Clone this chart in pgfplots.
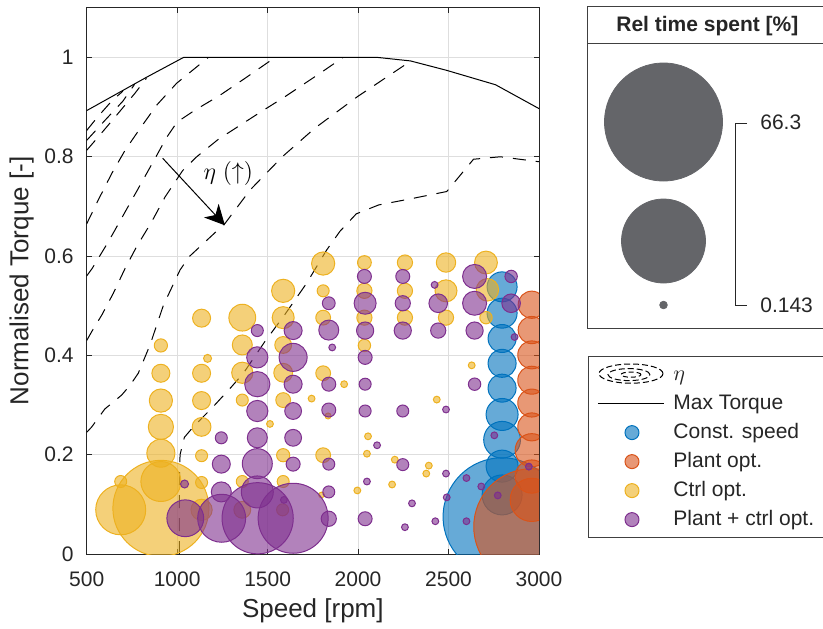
\documentclass[border=0pt]{standalone}
\usepackage{pgfplots}
\pgfplotsset{compat=1.18}
\usepackage{pgfplotstable}
\usepackage{fontspec}
\setmainfont{Liberation Sans}
\usetikzlibrary{arrows.meta}
\definecolor{cB}{RGB}{0,114,189}
\definecolor{cO}{RGB}{217,83,25}
\definecolor{cY}{RGB}{237,177,32}
\definecolor{cP}{RGB}{126,47,142}
\definecolor{tc}{RGB}{38,38,38}
\definecolor{gr}{RGB}{100,101,105}

\pgfplotstableread{
x y r
2796 0.538 7.5
2796 0.485 7.5
2796 0.434 7.0
2796 0.384 7.0
2796 0.334 7.0
2796 0.281 8.0
2796 0.230 9.2
2796 0.177 8.0
2796 0.119 10.0
2796 0.075 29.5
}\blue

\pgfplotstableread{
x y r
2960 0.502 6.8
2960 0.451 6.8
2960 0.401 7.0
2960 0.350 7.0
2960 0.304 7.0
2960 0.256 7.0
2960 0.209 8.3
2960 0.156 8.3
2960 0.109 10.8
2960 0.055 29.0
}\orange

\pgfplotstableread{
x y r
1807 0.585 5.8
2035 0.587 3.45
2259 0.587 3.8
2486 0.587 4.85
2707 0.587 5.7
1586 0.530 5.8
1807 0.530 3.0
2035 0.530 3.8
2259 0.530 3.8
2486 0.530 5.5
2715 0.532 5.6
1135 0.475 4.5
1360 0.476 6.7
1586 0.476 5.5
1807 0.476 3.7
2035 0.476 3.8
2259 0.476 3.8
2486 0.476 3.8
2707 0.476 3.1
910 0.420 3.3
1360 0.421 5.0
1586 0.421 4.2
2035 0.420 3.1
1168 0.394 2.0
910 0.364 4.5
1135 0.364 4.5
1360 0.365 5.3
1586 0.365 4.7
1807 0.364 3.7
1923 0.342 1.7
2628 0.380 1.7
910 0.309 5.8
1135 0.309 4.5
1360 0.310 3.0
1586 0.310 3.7
1743 0.313 1.7
2435 0.311 1.7
1834 0.278 1.5
1513 0.262 1.7
910 0.256 6.3
1135 0.256 4.7
2055 0.237 1.7
910 0.203 7.0
1135 0.198 3.0
1586 0.199 3.3
1807 0.199 3.7
2049 0.202 1.7
2203 0.190 1.7
2391 0.178 1.7
2377 0.162 1.7
688 0.146 3.0
910 0.146 10.0
1135 0.144 3.0
1360 0.146 3.0
1586 0.146 3.0
2188 0.140 1.7
1996 0.128 1.7
1798 0.119 1.4
688 0.089 12.5
910 0.092 24.0
1135 0.089 5.3
1360 0.089 4.2
1583 0.089 3.0
}\yellow

\pgfplotstableread{
x y r
2035 0.559 3.5
2247 0.559 3.5
2423 0.542 1.7
2644 0.559 6.0
2846 0.559 3.1
1838 0.505 3.2
2039 0.505 5.5
2247 0.505 3.8
2443 0.505 4.65
2644 0.505 6.0
2846 0.505 4.65
1443 0.450 3.0
1641 0.450 4.5
1838 0.451 5.0
2039 0.450 4.3
2247 0.450 4.3
2443 0.450 3.8
2644 0.450 4.3
2865 0.437 1.7
1857 0.416 1.7
1443 0.396 5.3
1641 0.396 7.0
2039 0.396 3.5
1443 0.342 6.3
1641 0.342 4.5
1838 0.342 3.5
2039 0.342 3.0
2644 0.342 3.1
1443 0.288 5.3
1641 0.288 4.2
1838 0.290 3.5
2039 0.288 3.0
2247 0.288 3.0
2486 0.291 1.7
1244 0.234 3.0
1443 0.234 5.0
1641 0.234 4.2
2105 0.219 1.7
2753 0.239 1.7
1244 0.181 4.5
1443 0.182 7.5
1641 0.181 3.5
1838 0.181 3.0
2247 0.180 3.0
2486 0.162 1.7
2599 0.153 1.7
2944 0.176 1.7
1041 0.141 2.0
2049 0.146 1.7
1244 0.125 5.0
1443 0.125 8.0
1838 0.125 3.0
2490 0.114 1.7
2681 0.136 1.7
2772 0.118 1.7
2298 0.102 1.7
1590 0.109 1.7
1045 0.072 9.2
1246 0.072 12.0
1445 0.072 17.8
1641 0.072 17.5
1838 0.071 3.8
2039 0.071 3.5
2259 0.054 1.7
2427 0.066 1.7
2599 0.066 1.7
}\purple

\pgfplotsset{
  bub/.style={scatter, only marks, mark=*, line width=0.5pt, forget plot,
    fill opacity=0.6, draw opacity=1,
    scatter/use mapped color={draw=#1, fill=#1},
    visualization depends on={\thisrow{r}\as\rad},
    scatter/@pre marker code/.append style={/tikz/mark size=\rad}},
  cont/.style={black, line width=0.5pt, dash pattern=on 6.5pt off 5pt, forget plot},
}

\begin{document}
\begin{tikzpicture}
\useasboundingbox (-43.35pt,-37pt) rectangle (368.15pt,277pt);
\begin{axis}[
  scale only axis, width=226.15pt, height=273.1pt,
  xmin=500, xmax=3000, ymin=0, ymax=1.1,
  xtick={500,1000,1500,2000,2500,3000},
  ytick={0,0.2,0.4,0.6,0.8,1},
  grid=major, major grid style={black!13, line width=0.5pt},
  axis line style={tc, line width=0.5pt},
  tick style={tc, line width=0.5pt}, major tick length=2.5pt,
  tick label style={font=\fontsize{10.5}{12}\selectfont, text=tc},
  /pgf/number format/assume math mode=true,
  /pgf/number format/1000 sep={},
  xticklabel style={yshift=-5.5pt},
  yticklabel style={xshift=-3pt},
  label style={font=\fontsize{13}{15}\selectfont, text=tc},
  xlabel={Speed [rpm]}, ylabel={Normalised Torque [-]},
  xlabel style={at={(axis description cs:0.5,-0.104)}, anchor=center},
  ylabel style={at={(axis description cs:-0.1437,0.5)}, anchor=center},
  clip marker paths=true,
  legend style={at={(axis description cs:1.1083,0.3625)}, anchor=north west,
    draw=black!75, line width=0.5pt, fill=white,
    font=\fontsize{10.5}{12}\selectfont, text=tc,
    inner xsep=4.5pt, inner ysep=3.5pt, row sep=4pt,
    nodes={inner sep=0pt, text height=8pt, text depth=2.5pt},
    /tikz/every odd column/.append style={column sep=4.5pt}},
  legend cell align=left,
]
% efficiency contours
\addplot[cont] coordinates {(500,0.245)(528,0.256)(600,0.292)(693,0.320)(740,0.340)(785,0.364)(850,0.421)(924,0.501)(1016,0.572)(1067,0.599)(1265,0.666)(1403,0.733)(1581,0.800)(1759,0.857)(1996,0.921)(2292,0.993)};
\addplot[cont] coordinates {(500,0.430)(528,0.448)(583,0.481)(647,0.525)(712,0.575)(776,0.619)(859,0.669)(933,0.719)(1030,0.772)(1108,0.800)(1227,0.835)(1448,0.887)(1596,0.921)(1789,0.968)(1917,1.0)};
\addplot[cont] coordinates {(500,0.560)(530,0.575)(620,0.629)(771,0.727)(889,0.804)(940,0.838)(1000,0.870)(1099,0.894)(1237,0.924)(1375,0.958)(1541,1.0)};
\addplot[cont] coordinates {(500,0.665)(564,0.713)(638,0.766)(712,0.813)(795,0.857)(887,0.904)(997,0.948)(1172,1.0)};
\addplot[cont] coordinates {(500,0.853)(560,0.880)(640,0.913)(700,0.932)};
\addplot[cont] coordinates {(500,0.833)(600,0.873)(700,0.912)(765,0.946)};
\addplot[cont] coordinates {(500,0.813)(564,0.840)(666,0.884)(767,0.928)(830,0.958)};
\addplot[cont] coordinates {(1012,0.0)(1013,0.15)(1016,0.200)(1040,0.235)(1089,0.256)(1200,0.297)(1301,0.337)(1366,0.364)(1485,0.428)(1587,0.478)(1715,0.545)(1826,0.612)(1900,0.650)(1990,0.685)(2114,0.703)(2300,0.716)(2490,0.730)(2638,0.795)(2786,0.800)(3000,0.790)};
% max torque
\addplot[black, line width=0.5pt, forget plot] coordinates {(500,0.893)(830,0.960)(1035,1.0)(2110,1.0)(2290,0.993)(2490,0.974)(2760,0.945)(3000,0.897)};
% bubbles
\addplot[bub=cB] table {\blue};
\addplot[bub=cO] table {\orange};
\addplot[bub=cY] table {\yellow};
\addplot[bub=cP] table {\purple};
% annotation
\draw[line width=0.5pt, -{Stealth[length=10pt, width=10pt, inset=3pt]}] (920,0.797) -- (1264,0.662);
\node[font=\fontsize{12}{14}\selectfont] at (1283,0.767) {$\eta\;(\uparrow)$};
% legend
\addlegendimage{legend image code/.code={
  \draw[line width=0.5pt, dash pattern=on 3pt off 1.5pt] (16.5pt,0.5pt) ellipse (16pt and 4.8pt);
  \draw[line width=0.5pt, dash pattern=on 3pt off 1.5pt] (15.5pt,0pt) ellipse (10.5pt and 3pt);
  \draw[line width=0.5pt, dash pattern=on 2.5pt off 1.5pt] (16.5pt,0pt) ellipse (5pt and 1.3pt);
  \path (0pt,0) (33pt,0);}}
\addlegendentry{$\eta$}
\addlegendimage{legend image code/.code={\draw[black, line width=0.5pt] (0pt,0) -- (33pt,0);}}
\addlegendentry{Max Torque}
\addlegendimage{legend image code/.code={\path (0pt,0) (33pt,0); \draw[cB, fill=cB, fill opacity=0.6, line width=0.5pt] (17pt,0) circle (3.5pt);}}
\addlegendentry{Const. speed}
\addlegendimage{legend image code/.code={\path (0pt,0) (33pt,0); \draw[cO, fill=cO, fill opacity=0.6, line width=0.5pt] (17pt,0) circle (3.5pt);}}
\addlegendentry{Plant opt.}
\addlegendimage{legend image code/.code={\path (0pt,0) (33pt,0); \draw[cY, fill=cY, fill opacity=0.6, line width=0.5pt] (17pt,0) circle (3.5pt);}}
\addlegendentry{Ctrl opt.}
\addlegendimage{legend image code/.code={\path (0pt,0) (33pt,0); \draw[cP, fill=cP, fill opacity=0.6, line width=0.5pt] (17pt,0) circle (3.5pt);}}
\addlegendentry{Plant + ctrl opt.}
\end{axis}

% bubble size panel
\begin{axis}[
  at={(250.15pt,113pt)}, anchor=south west,
  scale only axis, width=117.5pt, height=160.5pt,
  xmin=587, xmax=822, ymin=-328, ymax=-7,
  axis line style={black!75, line width=0.5pt},
  xtick=\empty, ytick=\empty, clip=false,
]
\draw[black!75, line width=0.5pt] (587,-43) -- (822,-43);
\node[font=\bfseries\fontsize{10.5}{12}\selectfont, text=tc] at (705,-26) {Rel time spent [\%]};
\addplot[scatter, only marks, mark=*, draw=none,
  scatter/use mapped color={draw=gr, fill=gr},
  visualization depends on={\thisrow{r}\as\rad},
  scatter/@pre marker code/.append style={/tikz/mark size=\rad}] table {
x y r
662 -122 29.5
662 -241 21
662 -305 1.9
};
\draw[tc, line width=0.5pt] (744,-123) -- (733,-123) -- (733,-305) -- (744,-305);
\node[anchor=west, font=\fontsize{10.5}{12}\selectfont, text=tc] at (750,-122) {66.3};
\node[anchor=west, font=\fontsize{10.5}{12}\selectfont, text=tc] at (750,-305) {0.143};
\end{axis}
\end{tikzpicture}
\end{document}
